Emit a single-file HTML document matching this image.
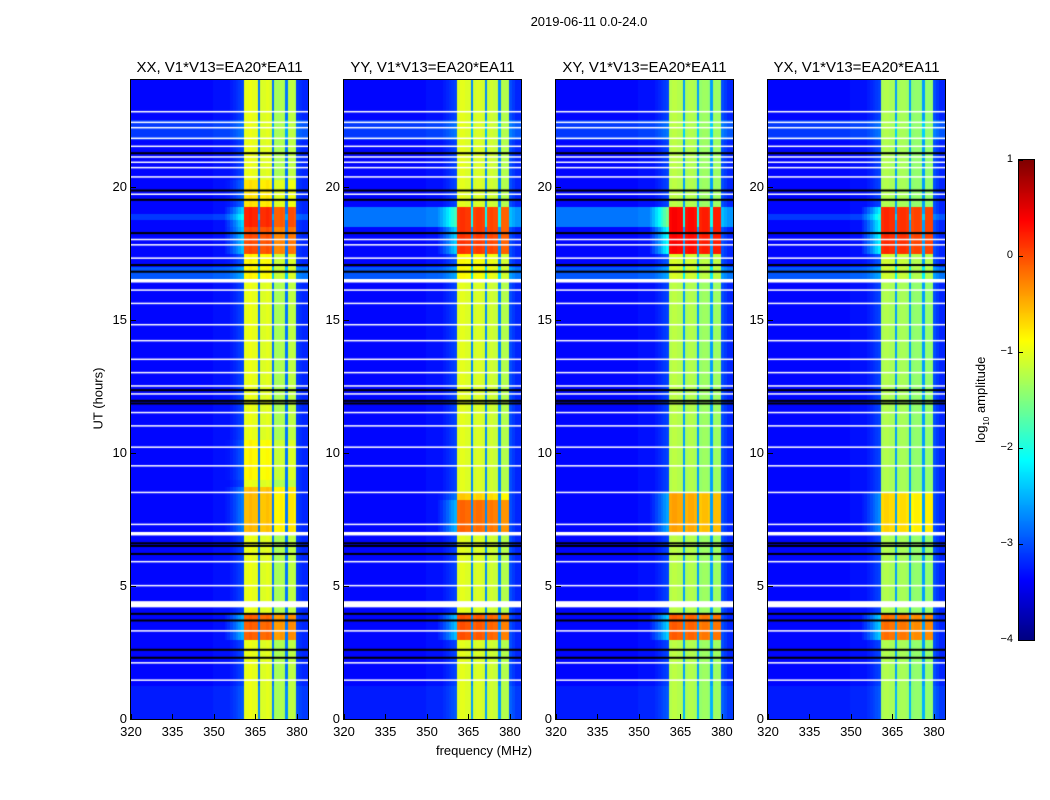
<!DOCTYPE html>
<html><head><meta charset="utf-8"><style>
body{margin:0;background:#fff;font-family:"Liberation Sans",sans-serif;}
#root{position:relative;width:1050px;height:800px;overflow:hidden;background:#fff;}
.t{position:absolute;white-space:nowrap;color:#000;}
canvas{position:absolute;}
</style></head><body>
<div id="root">
<div class="t" style="left:489px;top:14px;width:200px;text-align:center;font-size:13px;">2019-06-11 0.0-24.0</div>
<div class="t" style="left:48px;top:391px;width:100px;text-align:center;font-size:13px;transform:rotate(-90deg);">UT (hours)</div>
<div class="t" style="left:384px;top:743px;width:200px;text-align:center;font-size:13px;">frequency (MHz)</div>
<div class="t" style="left:922px;top:391px;width:120px;text-align:center;font-size:13px;transform:rotate(-90deg);">log<sub style="font-size:8px">10</sub> amplitude</div>
</div>
<script>
// ---- data ----
const freqStart = 320, freqEnd = 384, tMax = 24;
const panelTitles = ["XX, V1*V13=EA20*EA11","YY, V1*V13=EA20*EA11","XY, V1*V13=EA20*EA11","YX, V1*V13=EA20*EA11"];
const xTicks = [320,335,350,365,380];
const yTicks = [0,5,10,15,20];
const cbTicks = [1,0,-1,-2,-3,-4];
// per-1MHz channel log amplitude, 320..383 MHz
const chanXX = [-3.35,-3.35,-3.35,-3.35,-3.35,-3.35,-3.35,-3.35,-3.35,-3.35,-3.35,-3.35,-3.35,-3.35,-3.35,-3.35,-3.35,-3.35,-3.35,-3.35,-3.35,-3.35,-3.35,-3.35,-3.35,-3.35,-3.35,-3.35,-3.35,-3.35,
 -3.3,-3.3,-3.3,-3.3,-3.3,-3.3,-3.25,-3.2,-3.15,-3.1,-3.05,-1.0,-1.0,-0.95,-1.0,-1.0,-2.8,-1.05,-1.05,-1.0,-1.05,-2.8,-1.3,-1.3,-1.25,-1.3,-2.8,-1.2,-1.2,-1.25,-3.1,-3.15,-3.2,-3.2];
const chanYY = [-3.35,-3.35,-3.35,-3.35,-3.35,-3.35,-3.35,-3.35,-3.35,-3.35,-3.35,-3.35,-3.35,-3.35,-3.35,-3.35,-3.35,-3.35,-3.35,-3.35,-3.35,-3.35,-3.35,-3.35,-3.35,-3.35,-3.35,-3.35,-3.35,-3.35,
 -3.3,-3.3,-3.3,-3.3,-3.3,-3.3,-3.25,-3.2,-3.15,-3.1,-3.05,-1.05,-1.0,-1.0,-1.05,-1.05,-2.7,-1.1,-1.05,-1.05,-1.1,-2.7,-1.15,-1.1,-1.15,-1.15,-2.7,-1.25,-1.25,-1.25,-3.0,-3.1,-3.2,-3.2];
const chanXY = [-3.35,-3.35,-3.35,-3.35,-3.35,-3.35,-3.35,-3.35,-3.35,-3.35,-3.35,-3.35,-3.35,-3.35,-3.35,-3.35,-3.35,-3.35,-3.35,-3.35,-3.35,-3.35,-3.35,-3.35,-3.35,-3.35,-3.35,-3.35,-3.35,-3.35,
 -3.3,-3.3,-3.3,-3.3,-3.3,-3.3,-3.25,-3.2,-3.15,-3.1,-3.05,-1.25,-1.2,-1.2,-1.25,-1.25,-2.6,-1.3,-1.25,-1.25,-1.3,-2.6,-1.4,-1.35,-1.35,-1.4,-2.6,-1.35,-1.35,-1.35,-3.0,-3.1,-3.2,-3.2];
const chanYX = [-3.35,-3.35,-3.35,-3.35,-3.35,-3.35,-3.35,-3.35,-3.35,-3.35,-3.35,-3.35,-3.35,-3.35,-3.35,-3.35,-3.35,-3.35,-3.35,-3.35,-3.35,-3.35,-3.35,-3.35,-3.35,-3.35,-3.35,-3.35,-3.35,-3.35,
 -3.3,-3.3,-3.3,-3.3,-3.3,-3.3,-3.25,-3.2,-3.15,-3.1,-3.05,-1.3,-1.25,-1.25,-1.3,-1.3,-2.6,-1.35,-1.3,-1.3,-1.35,-2.6,-1.45,-1.4,-1.4,-1.45,-2.6,-1.4,-1.4,-1.4,-3.0,-3.1,-3.2,-3.2];
// band boost segments per panel (hours start, end, log offset)
const bandStartXX = [3.0,7.1,9.0,16.6,17.6,18.6,19.3], bandEndXX = [4.1,8.8,10.5,17.6,18.6,19.3,20.2], bandValXX = [0.9,0.45,0.15,0.15,1.0,1.2,0.25];
const bandStartYY = [2.9,7.0,8.2,16.6,17.6], bandEndYY = [4.1,8.2,8.6,17.6,19.3], bandValYY = [1.0,0.9,0.4,0.15,1.15];
const bandStartXY = [3.0,7.1,16.6,17.6], bandEndXY = [4.1,8.6,17.6,19.3], bandValXY = [1.15,0.8,0.15,1.6];
const bandStartYX = [2.9,7.0,16.6,17.6], bandEndYX = [4.1,8.6,17.6,19.3], bandValYX = [1.1,0.6,0.15,1.45];
// background boost segments
const bgStartXX = [0.0,16.4,21.8,18.7], bgEndXX = [1.3,17.0,22.5,19.0], bgValXX = [0.1,0.4,0.25,0.25];
const bgStartYY = [0.0,16.4,21.8,18.6], bgEndYY = [1.3,17.0,22.5,19.2], bgValYY = [0.1,0.4,0.25,0.55];
// flagged (white) and black rows, hours
const whiteRows = [1.45,2.1,3.3,4.25,4.35,5.0,5.9,6.95,7.3,8.5,9.5,10.2,11.0,11.5,12.2,12.5,13.0,13.5,14.2,14.8,15.6,16.1,16.45,17.3,17.8,18.0,19.7,20.35,20.7,20.9,21.1,21.5,21.8,22.2,22.4,22.8];
const whiteThick = [1,1,1,3,3,1,1,3,1,1,1,1,1,1,1,1,1,1,1,1,1,1,3,1,1,1,1,1,1,1,1,1,1,1,1,1];
const blackRows = [2.3,2.6,3.7,3.95,6.2,6.5,6.6,11.85,11.95,12.35,16.8,17.05,18.25,19.5,19.85,21.25];

const panels = [
 {x:131, chan:chanXX, bs:bandStartXX, be:bandEndXX, bv:bandValXX, gs:bgStartXX, ge:bgEndXX, gv:bgValXX},
 {x:344, chan:chanYY, bs:bandStartYY, be:bandEndYY, bv:bandValYY, gs:bgStartYY, ge:bgEndYY, gv:bgValYY},
 {x:556, chan:chanXY, bs:bandStartXY, be:bandEndXY, bv:bandValXY, gs:bgStartYY, ge:bgEndYY, gv:bgValYY},
 {x:768, chan:chanYX, bs:bandStartYX, be:bandEndYX, bv:bandValYX, gs:bgStartXX, ge:bgEndXX, gv:bgValXX}
];
const PW = 177, PT = 80, PH = 639;
const root = document.getElementById('root');

function jet(v){
  let t = Math.max(0,Math.min(1,(v+4)/5));
  const f = (a)=>Math.max(0,Math.min(1,1.5-Math.abs(4*t-a)));
  return `rgb(${Math.round(255*f(3))},${Math.round(255*f(2))},${Math.round(255*f(1))})`;
}
function segVal(h, s, e, val){ let o=0; for(let i=0;i<s.length;i++) if(h>=s[i]&&h<e[i]) o+=val[i]; return o; }

panels.forEach((p,pi)=>{
  const xs = f => (f-freqStart)/(freqEnd-freqStart)*PW;
  const ys = h => PH - h/tMax*PH;
  const cv = document.createElement('canvas');
  cv.width=PW; cv.height=PH;
  cv.style.left=p.x+'px'; cv.style.top=PT+'px';
  
  
  root.appendChild(cv);
  const ctx = cv.getContext('2d');
  const nRows = 96;
  for(let r=0;r<nRows;r++){
    const h0 = r*tMax/nRows, h1=(r+1)*tMax/nRows, hm=(h0+h1)/2;
    const bb = segVal(hm,p.bs,p.be,p.bv);
    for(let c=0;c<p.chan.length;c++){
      let v = p.chan[c];
      if(v > -2) v += bb;
      else {
        v += segVal(hm,p.gs,p.ge,p.gv);
        if(c>=34 && c<=40) v += bb*0.6*(c-33)/7;
      }
      ctx.fillStyle = jet(v);
      const x0=xs(freqStart+c), x1=xs(freqStart+c+1);
      ctx.fillRect(Math.floor(x0), Math.floor(ys(h1)), Math.ceil(x1)-Math.floor(x0), Math.ceil(ys(h0))-Math.floor(ys(h1)));
    }
  }
  ctx.fillStyle='#000';
  blackRows.forEach(h=>ctx.fillRect(0,ys(h)-1,PW,2));
  ctx.fillStyle='#fff';
  whiteRows.forEach((h,i)=>ctx.fillRect(0,ys(h)-whiteThick[i]/2-0.5,PW,whiteThick[i]+0.5));
  const fr = document.createElement('div');
  
  
  fr.style.cssText=`position:absolute;left:${p.x-1}px;top:${PT-1}px;width:${PW}px;height:${PH}px;border:1px solid #000;`;
  root.appendChild(fr);
  const ti = document.createElement('div');
  ti.className='t';
  
  
  ti.style.cssText=`left:${p.x-40}px;top:59px;width:${PW+80}px;text-align:center;font-size:15px;`;
  ti.textContent=panelTitles[pi];
  root.appendChild(ti);
  xTicks.forEach(f=>{
    const x=p.x+xs(f);
    const l=document.createElement('div'); l.className='t';
    
    
    l.style.cssText=`left:${x-20}px;top:724px;width:40px;text-align:center;font-size:13px;`;
    l.textContent=f; root.appendChild(l);
    const tk=document.createElement('div');
    
    
    tk.style.cssText=`position:absolute;left:${x}px;top:${PT+PH-5}px;width:1px;height:5px;background:#000;`;
    root.appendChild(tk);
  });
  yTicks.forEach(h=>{
    const y=PT+ys(h);
    const l=document.createElement('div'); l.className='t';
    
    
    l.style.cssText=`left:${p.x-34}px;top:${y-8}px;width:30px;text-align:right;font-size:13px;`;
    l.textContent=h; root.appendChild(l);
    const tk=document.createElement('div');
    
    
    tk.style.cssText=`position:absolute;left:${p.x}px;top:${y}px;width:5px;height:1px;background:#000;`;
    root.appendChild(tk);
  });
});

const CBX=1019, CBT=160, CBH=480, CBW=15;
const cb=document.createElement('canvas'); cb.width=CBW; cb.height=CBH;
cb.style.left=CBX+'px'; cb.style.top=CBT+'px';


root.appendChild(cb);
const cctx=cb.getContext('2d');
for(let y=0;y<CBH;y++){ cctx.fillStyle=jet(1-5*y/CBH); cctx.fillRect(0,y,CBW,1); }
const cbf=document.createElement('div');


cbf.style.cssText=`position:absolute;left:${CBX-1}px;top:${CBT-1}px;width:${CBW}px;height:${CBH}px;border:1px solid #000;`;
root.appendChild(cbf);
cbTicks.forEach(v=>{
  const y=CBT+(1-v)/5*CBH;
  const l=document.createElement('div'); l.className='t';
  
  
  l.style.cssText=`left:${CBX-40}px;top:${y-7}px;width:34px;text-align:right;font-size:11px;`;
  l.textContent=(v<0?'\u2212'+(-v):v); root.appendChild(l);
  const tk=document.createElement('div');
  
  
  tk.style.cssText=`position:absolute;left:${CBX}px;top:${y}px;width:4px;height:1px;background:#000;`;
  root.appendChild(tk);
});
</script>
</body></html>
